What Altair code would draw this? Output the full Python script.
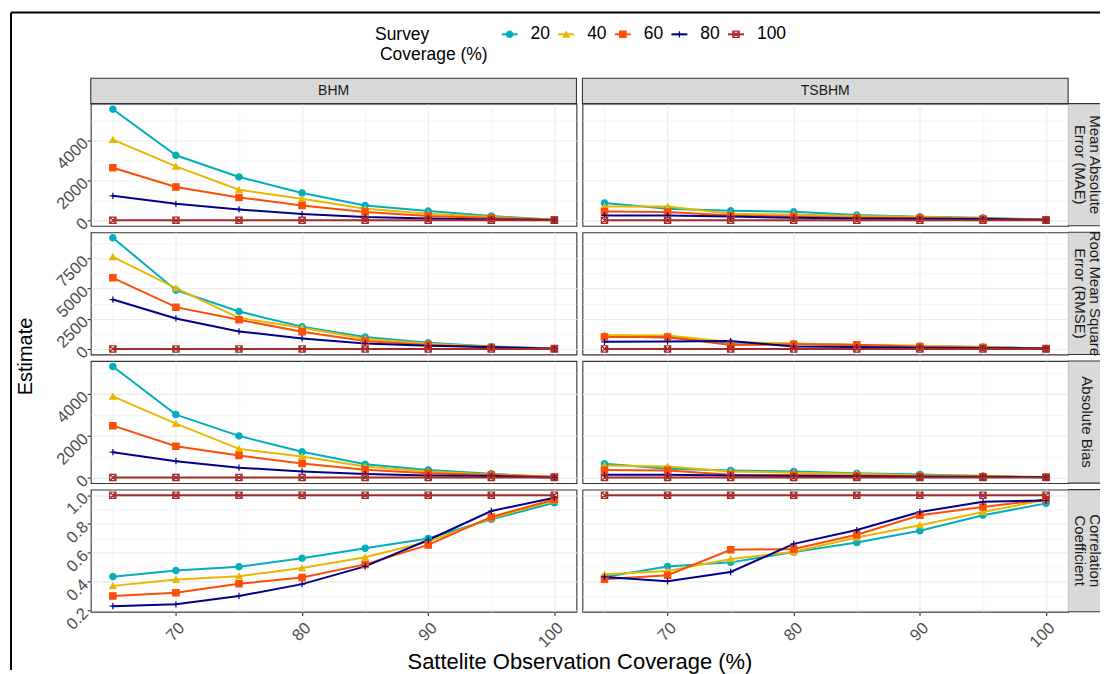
import math
import altair as alt
import pandas as pd

# ---------------- data ----------------
coverage = [65, 70, 75, 80, 85, 90, 95, 100]
series = ["20", "40", "60", "80", "100"]
models = ["BHM", "TSBHM"]
metrics = ["MAE", "RMSE", "Bias", "Corr"]
metric_strips = ["Mean Absolute\nError (MAE)", "Root Mean Square\nError (RMSE)",
                 "Absolute Bias", "Correlation\nCoefficient"]

mae_bhm = {
    "20": [5550, 3250, 2170, 1370, 750, 470, 220, 40],
    "40": [4030, 2700, 1530, 1080, 580, 330, 170, 50],
    "60": [2630, 1670, 1150, 750, 420, 220, 120, 35],
    "80": [1230, 830, 550, 320, 170, 100, 50, 20],
    "100": [10, 10, 10, 10, 10, 10, 10, 10],
}
mae_tsbhm = {
    "20": [870, 580, 480, 430, 270, 180, 130, 35],
    "40": [700, 700, 330, 300, 220, 170, 100, 50],
    "60": [450, 420, 250, 200, 130, 120, 80, 35],
    "80": [250, 250, 200, 130, 100, 80, 70, 30],
    "100": [10, 10, 10, 10, 10, 10, 10, 10],
}
rmse_bhm = {
    "20": [9180, 4860, 3100, 1840, 990, 520, 220, 50],
    "40": [7610, 5030, 2580, 1760, 850, 440, 190, 55],
    "60": [5880, 3460, 2420, 1430, 660, 330, 140, 55],
    "80": [4090, 2530, 1460, 880, 470, 280, 165, 30],
    "100": [15, 15, 15, 15, 15, 15, 15, 15],
}
rmse_tsbhm = {
    "20": [1070, 930, 520, 440, 330, 250, 165, 55],
    "40": [1150, 1130, 580, 470, 330, 280, 165, 55],
    "60": [990, 990, 330, 390, 360, 190, 140, 55],
    "80": [600, 630, 660, 220, 165, 110, 80, 55],
    "100": [15, 15, 15, 15, 15, 15, 15, 15],
}
bias_bhm = {
    "20": [5320, 3020, 2000, 1240, 640, 370, 190, 30],
    "40": [3890, 2590, 1380, 1020, 540, 300, 160, 50],
    "60": [2490, 1510, 1060, 680, 380, 210, 130, 30],
    "80": [1220, 790, 480, 300, 180, 110, 80, 15],
    "100": [8, 8, 8, 8, 8, 8, 8, 8],
}
bias_tsbhm = {
    "20": [670, 430, 350, 300, 210, 160, 80, 15],
    "40": [590, 540, 300, 240, 190, 110, 95, 30],
    "60": [370, 350, 140, 130, 95, 65, 50, 30],
    "80": [140, 140, 110, 80, 65, 50, 50, 30],
    "100": [8, 8, 8, 8, 8, 8, 8, 8],
}
corr_bhm = {
    "20": [0.435, 0.477, 0.504, 0.563, 0.632, 0.700, 0.833, 0.947],
    "40": [0.371, 0.415, 0.438, 0.495, 0.570, 0.678, 0.840, 0.963],
    "60": [0.301, 0.323, 0.385, 0.429, 0.520, 0.655, 0.849, 0.970],
    "80": [0.230, 0.243, 0.301, 0.383, 0.506, 0.689, 0.890, 0.982],
    "100": [1.0, 1.0, 1.0, 1.0, 1.0, 1.0, 1.0, 1.0],
}
corr_tsbhm = {
    "20": [0.433, 0.506, 0.534, 0.605, 0.671, 0.753, 0.861, 0.943],
    "40": [0.451, 0.474, 0.557, 0.607, 0.707, 0.792, 0.883, 0.968],
    "60": [0.417, 0.445, 0.621, 0.627, 0.726, 0.861, 0.918, 0.970],
    "80": [0.433, 0.403, 0.467, 0.662, 0.758, 0.883, 0.954, 0.963],
    "100": [1.0, 1.0, 1.0, 1.0, 1.0, 1.0, 1.0, 1.0],
}
tables = {
    ("MAE", "BHM"): mae_bhm, ("MAE", "TSBHM"): mae_tsbhm,
    ("RMSE", "BHM"): rmse_bhm, ("RMSE", "TSBHM"): rmse_tsbhm,
    ("Bias", "BHM"): bias_bhm, ("Bias", "TSBHM"): bias_tsbhm,
    ("Corr", "BHM"): corr_bhm, ("Corr", "TSBHM"): corr_tsbhm,
}

# ---------------- styles ----------------
series_colors = ["#00AFBB", "#E7B800", "#FC4E07", "#00008B", "#A52A2A"]
series_fills = ["#00AFBB", "#E7B800", "#FC4E07", "transparent", "transparent"]
series_shapes = ["circle", "triangle-up", "square", "M-1,0H1M0,-1V1",
                 "M-1,-1H1V1H-1ZM-1,-1L1,1M1,-1L-1,1"]
major_step = {"MAE": 2000, "RMSE": 2500, "Bias": 2000, "Corr": 0.2}
minor_step = {"MAE": 1000, "RMSE": 1250, "Bias": 1000, "Corr": 0.1}
label_fmt = {"MAE": "d", "RMSE": "d", "Bias": "d", "Corr": ".1f"}

FONT = "Liberation Sans"
W, H = 487, 122.5
SW = 32  # right strip width
STRIP_LH = 15
GRID = "#EBEBEB"
BORDER = "#333333"
LABEL = "#4D4D4D"
STRIP_FILL = "#D9D9D9"

rows = []
for (m, mod), tab in tables.items():
    for s in series:
        for x, v in zip(coverage, tab[s]):
            rows.append({"metric": m, "model": mod, "x": x, "s": s, "v": v})
df = pd.DataFrame(rows)

# ggplot-like 5% expansion, shared across each row
domains = {}
for m in metrics:
    vals = df[df.metric == m].v
    lo, hi = vals.min(), vals.max()
    pad = 0.05 * (hi - lo)
    domains[m] = [lo - pad, hi + pad]
x_domain = [coverage[0] - 0.05 * (coverage[-1] - coverage[0]),
            coverage[-1] + 0.05 * (coverage[-1] - coverage[0])]


def grid_values(lo, hi, step):
    k0 = math.ceil(lo / step - 1e-9)
    k1 = math.floor(hi / step + 1e-9)
    return [round(k * step, 6) for k in range(k0, k1 + 1)]


def major_test(step):
    return f"abs(datum.value/{step} - round(datum.value/{step})) < 1e-6"


def y_axis(m, show):
    test = major_test(major_step[m])
    vals = grid_values(domains[m][0], domains[m][1], minor_step[m])
    common = dict(values=vals, grid=True, gridColor=GRID,
                  gridWidth={"condition": {"test": test, "value": 1.1}, "value": 0.55},
                  domain=False, title=None)
    if show:
        return alt.Axis(**common, format=label_fmt[m],
                        labelExpr=f"{test} ? datum.label : ''",
                        tickOpacity={"condition": {"test": test, "value": 1}, "value": 0},
                        tickColor=BORDER, tickSize=3.7, tickWidth=1.1,
                        labelAngle=315, labelAlign="right", labelBaseline="middle",
                        labelFontSize=16.5, labelColor=LABEL, labelPadding=2,
                        labelOverlap=False, labelFlush=False)
    return alt.Axis(**common, labels=False, ticks=False)


def x_axis(show):
    test = "datum.value % 10 === 0"
    common = dict(values=coverage, grid=True, gridColor=GRID,
                  gridWidth={"condition": {"test": test, "value": 1.1}, "value": 0.55},
                  domain=False, title=None)
    if show:
        return alt.Axis(**common, format="d",
                        labelExpr=f"{test} ? datum.label : ''",
                        tickOpacity={"condition": {"test": test, "value": 1}, "value": 0},
                        tickColor=BORDER, tickSize=3.7, tickWidth=1.1,
                        labelAngle=315, labelAlign="right", labelBaseline="top",
                        labelFontSize=16.5, labelColor=LABEL, labelPadding=4,
                        labelOverlap=False, labelFlush=False)
    return alt.Axis(**common, labels=False, ticks=False)


def one_row():
    return alt.Data(values=[{"k": 0}])


def panel(ri, ci):
    m, mod = metrics[ri], models[ci]
    d = df[(df.metric == m) & (df.model == mod)]
    xs = alt.Scale(domain=x_domain, nice=False, zero=False)
    ys = alt.Scale(domain=domains[m], nice=False, zero=False)
    xa = x_axis(ri == len(metrics) - 1)
    ya = y_axis(m, ci == 0)
    X = alt.X("x:Q", scale=xs, axis=xa)
    Y = alt.Y("v:Q", scale=ys, axis=ya)
    layers = []
    for s, c in zip(series, series_colors):
        layers.append(alt.Chart(d[d.s == s]).mark_line(color=c, strokeWidth=2)
                      .encode(x=X, y=Y))
    layers.append(
        alt.Chart(d).mark_point(filled=False, opacity=1, size=40, strokeWidth=1.2)
        .encode(x=X, y=Y,
                shape=alt.Shape("s:N", scale=alt.Scale(domain=series, range=series_shapes), legend=None),
                stroke=alt.Stroke("s:N", scale=alt.Scale(domain=series, range=series_colors), legend=None),
                fill=alt.Fill("s:N", scale=alt.Scale(domain=series, range=series_fills), legend=None))
    )
    # top strips
    if ri == 0:
        sd = pd.DataFrame({"t": [mod]})
        layers.append(alt.Chart(sd).mark_rect(fill=STRIP_FILL, stroke=BORDER, strokeWidth=1.1)
                      .encode(x=alt.value(0), x2=alt.value(W), y=alt.value(-25.5), y2=alt.value(0)))
        layers.append(alt.Chart(sd).mark_text(fontSize=14, color="#1A1A1A")
                      .encode(x=alt.value(W / 2), y=alt.value(-12.5), text="t:N"))
    # right strips
    if ci == 1:
        label = metric_strips[ri]
        n_lines = label.count("\n") + 1
        sd = pd.DataFrame({"t": [label]})
        layers.append(alt.Chart(sd).mark_rect(fill=STRIP_FILL)
                      .encode(x=alt.value(W), x2=alt.value(W + SW), y=alt.value(0), y2=alt.value(H)))
        for yy in (0, H):
            layers.append(alt.Chart(sd).mark_rule(color=BORDER, strokeWidth=1.1)
                          .encode(x=alt.value(W), x2=alt.value(W + SW), y=alt.value(yy)))
        tx = W + SW / 2 + 3 + (n_lines - 1) * STRIP_LH / 2
        layers.append(alt.Chart(sd).mark_text(fontSize=15, color="#1A1A1A", angle=90,
                                              lineBreak="\n", lineHeight=STRIP_LH)
                      .encode(x=alt.value(tx), y=alt.value(H / 2), text="t:N"))
    chart = alt.layer(*layers)
    if ri == 0 and ci == 0:
        # frame, axis titles
        deco = [
            alt.Chart(one_row()).mark_rule(color="black", strokeWidth=2)
            .encode(x=alt.value(-80), y=alt.value(-91.5), y2=alt.value(568)),
            alt.Chart(one_row()).mark_rule(color="black", strokeWidth=2)
            .encode(x=alt.value(-80), x2=alt.value(2 * W + 6 + SW), y=alt.value(-91.5)),
            alt.Chart(one_row()).mark_text(fontSize=20, angle=270, color="black")
            .encode(x=alt.value(-65), y=alt.value(253.5), text=alt.value("Estimate")),
            alt.Chart(one_row()).mark_text(fontSize=22, color="black")
            .encode(x=alt.value(490.5), y=alt.value(560), text=alt.value("Sattelite Observation Coverage (%)")),
            alt.Chart(one_row()).mark_text(fontSize=17.5, align="left", color="black")
            .encode(x=alt.value(285), y=alt.value(-68.5), text=alt.value("Survey")),
            alt.Chart(one_row()).mark_text(fontSize=17.5, align="left", color="black")
            .encode(x=alt.value(290), y=alt.value(-48.5), text=alt.value("Coverage (%)")),
        ]
        ld = pd.DataFrame({"s": series})
        LX = alt.X("s:N", scale=alt.Scale(type="point", domain=series, range=[420, 647], padding=0),
                   axis=None)
        legend = [
            alt.Chart(ld).mark_point(shape="M-1,0H1", size=256, strokeWidth=2, filled=False, opacity=1)
            .encode(x=LX, y=alt.value(-69.5),
                    stroke=alt.Stroke("s:N", scale=alt.Scale(domain=series, range=series_colors), legend=None)),
            alt.Chart(ld).mark_point(filled=False, opacity=1, size=40, strokeWidth=1.2)
            .encode(x=LX, y=alt.value(-69.5),
                    shape=alt.Shape("s:N", scale=alt.Scale(domain=series, range=series_shapes), legend=None),
                    stroke=alt.Stroke("s:N", scale=alt.Scale(domain=series, range=series_colors), legend=None),
                    fill=alt.Fill("s:N", scale=alt.Scale(domain=series, range=series_fills), legend=None)),
            alt.Chart(ld).mark_text(fontSize=17.5, align="left", dx=21, color="black")
            .encode(x=LX, y=alt.value(-69.5), text="s:N"),
        ]
        chart = alt.layer(alt.layer(*layers, *deco), alt.layer(*legend)).resolve_scale(x="independent")
    return chart.properties(width=W, height=H)


panels = [panel(ri, ci) for ri in range(len(metrics)) for ci in range(len(models))]

chart = (
    alt.concat(*panels, columns=2, spacing=6, bounds="flush")
    .properties(padding={"left": 1, "top": 1, "right": 0, "bottom": 0})
    .configure(font=FONT, background="white")
    .configure_view(stroke=BORDER, strokeWidth=1.1, fill="white")
)

chart.save("out.html", embed_options={"renderer": "svg", "actions": False})
